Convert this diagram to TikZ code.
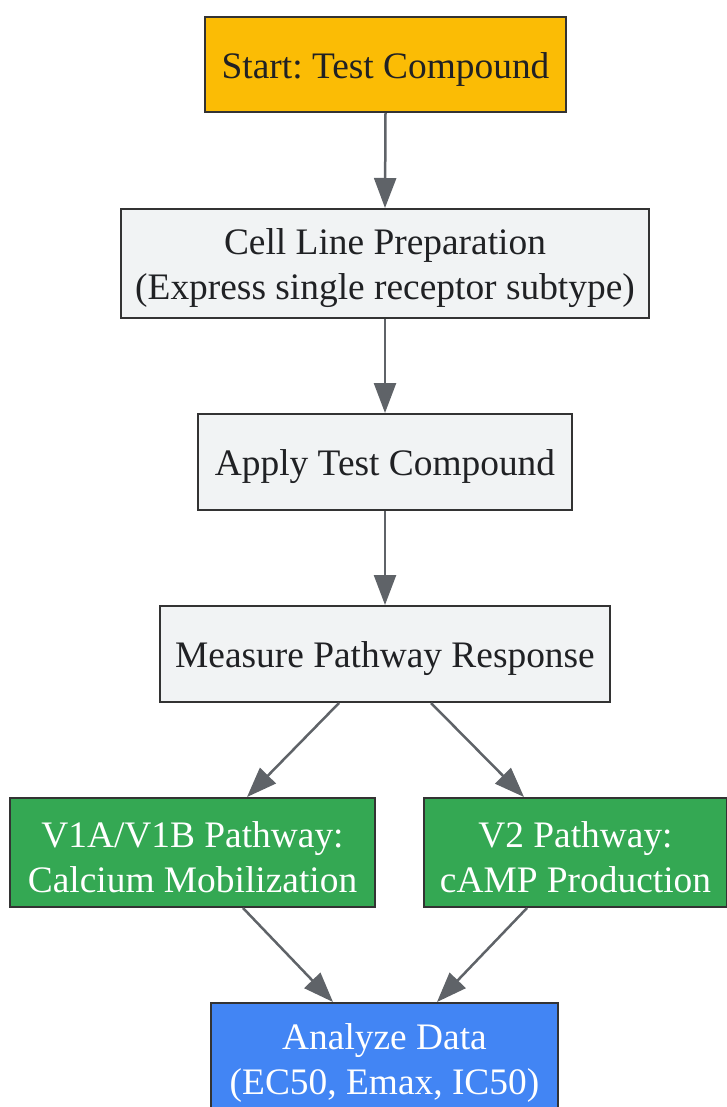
\documentclass[tikz,border=0pt]{standalone}
\usepackage{fontspec}
\setmainfont{Liberation Serif}
\usetikzlibrary{arrows.meta}
\definecolor{cyellow}{HTML}{FBBC05}
\definecolor{cgray}{HTML}{F1F3F4}
\definecolor{cgreen}{HTML}{34A853}
\definecolor{cblue}{HTML}{4285F4}
\definecolor{cborder}{HTML}{333333}
\definecolor{carrow}{HTML}{5F6368}
\definecolor{ctext}{HTML}{202124}
\frenchspacing
\begin{document}
\begin{tikzpicture}[x=1pt,y=-1pt,
  box/.style={draw=cborder, line width=2pt, rectangle, inner sep=0pt},
  tx/.style={align=center, inner sep=0pt, yshift=-5pt,
    font=\fontsize{37.4}{45}\selectfont, text=ctext},
  txw/.style={tx, text=white},
  ybox/.style={box, fill=cyellow},
  gbox/.style={box, fill=cgray},
  grbox/.style={box, fill=cgreen},
  bbox/.style={box, fill=cblue},
  conn/.style={draw=carrow, line width=2.5pt, -{Triangle[length=30pt,width=22pt]}}]
\useasboundingbox (0,0) rectangle (727,1107);
\node[ybox, minimum width=361pt, minimum height=95pt,
  label={[tx]center:{Start: Test Compound}}] (start) at (385.5,64.5) {};
\node[gbox, minimum width=528pt, minimum height=109pt,
  label={[tx]center:{Cell Line Preparation\\(Express single receptor subtype)}}] (cell) at (385,263.5) {};
\node[gbox, minimum width=374pt, minimum height=96pt,
  label={[tx]center:{Apply Test Compound}}] (apply) at (385,462) {};
\node[gbox, minimum width=450pt, minimum height=96pt,
  label={[tx]center:{Measure Pathway Response}}] (measure) at (385,654) {};
\node[grbox, minimum width=365pt, minimum height=109pt,
  label={[txw]center:{V1A/V1B Pathway:\\Calcium Mobilization}}] (v1) at (192.5,852.5) {};
\node[grbox, minimum width=303pt, minimum height=109pt,
  label={[txw]center:{V2 Pathway:\\cAMP Production}}] (v2) at (575.5,852.5) {};
\node[bbox, minimum width=347pt, minimum height=109pt,
  label={[txw]center:{Analyze Data\\(EC50, Emax, IC50)}}] (analyze) at (384.5,1057.5) {};
\draw[conn] (start.south) -- (cell.north);
\draw[conn] (cell.south) -- (apply.north);
\draw[conn] (apply.south) -- (measure.north);
\draw[conn] ([xshift=-46pt]measure.south) -- ([xshift=54.5pt]v1.north);
\draw[conn] ([xshift=46pt]measure.south) -- ([xshift=-51.5pt]v2.north);
\draw[conn] ([xshift=50.5pt]v1.south) -- ([xshift=-51.5pt]analyze.north);
\draw[conn] ([xshift=-48.5pt]v2.south) -- ([xshift=52.5pt]analyze.north);
\end{tikzpicture}
\end{document}
